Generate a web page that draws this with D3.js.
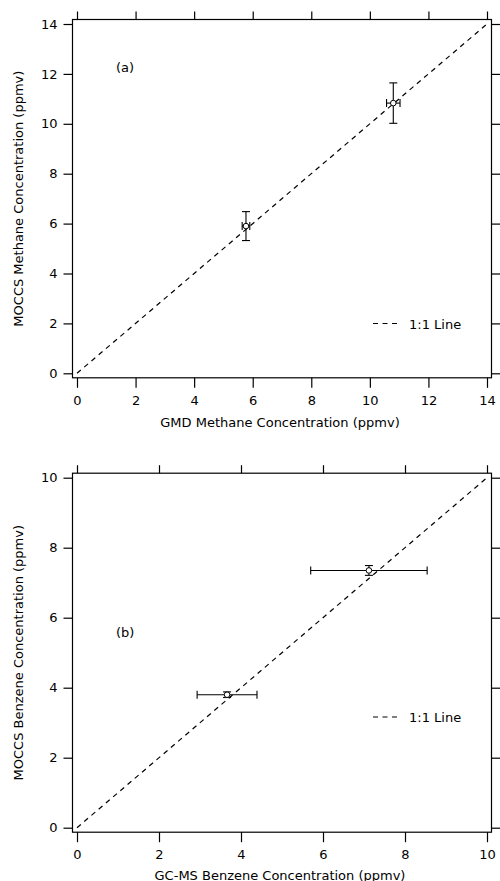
<!DOCTYPE html>
<html><head><meta charset="utf-8">
<script src="https://cdn.jsdelivr.net/npm/d3@7"></script>
<style>body{margin:0;background:#fff}svg{display:block}text{font-family:"DejaVu Sans",sans-serif;fill:#000}</style>
</head><body>
<script>
// Panel (a): methane
const methaneX = [5.77, 10.80];
const methaneY = [5.90, 10.83];
const methaneXErr = [0.13, 0.23];
const methaneYErr = [0.58, 0.81];
const methaneTicks = [0, 2, 4, 6, 8, 10, 12, 14];
// Panel (b): benzene
const benzeneX = [3.66, 7.12];
const benzeneY = [3.80, 7.35];
const benzeneXErr = [0.73, 1.42];
const benzeneYErr = [0.08, 0.14];
const benzeneTicks = [0, 2, 4, 6, 8, 10];

const W = 500, H = 881, FS = 13;
const svg = d3.select("body").append("svg").attr("width", W).attr("height", H);

function panel(cfg) {
  const x = d3.scaleLinear().domain([0, cfg.max]).range([77, 487]);
  const y = d3.scaleLinear().domain([0, cfg.max]).range([cfg.y0, cfg.y1]);
  const g = svg.append("g");
  const fl = 72.5, fr = 491.5, ft = cfg.y1 - 4.5, fb = cfg.y0 + 4.5;
  g.append("rect").attr("x", fl).attr("y", ft).attr("width", fr - fl).attr("height", fb - ft)
    .attr("fill", "none").attr("stroke", "#000").attr("stroke-width", 1.2);
  const bx = g.append("g").attr("transform", `translate(0,${fb})`)
    .call(d3.axisBottom(x).tickValues(cfg.ticks).tickSize(10).tickPadding(8).tickFormat(d3.format("d")));
  const tx = g.append("g").attr("transform", `translate(0,${ft})`)
    .call(d3.axisTop(x).tickValues(cfg.ticks).tickSize(8).tickFormat(""));
  const ly = g.append("g").attr("transform", `translate(${fl},0)`)
    .call(d3.axisLeft(y).tickValues(cfg.ticks).tickSize(9).tickPadding(6).tickFormat(d3.format("d")));
  const ry = g.append("g").attr("transform", `translate(${fr},0)`)
    .call(d3.axisRight(y).tickValues(cfg.ticks).tickSize(9).tickFormat(""));
  [bx, tx, ly, ry].forEach(a => {
    a.select(".domain").remove();
    a.selectAll("line").attr("stroke", "#000").attr("stroke-width", 1.2);
    a.selectAll("text").attr("font-size", FS).attr("font-family", "DejaVu Sans").attr("fill", "#000");
  });
  g.append("line").attr("x1", x(0)).attr("y1", y(0)).attr("x2", x(cfg.max)).attr("y2", y(cfg.max))
    .attr("stroke", "#000").attr("stroke-width", 1.2).attr("stroke-dasharray", "5,4.5");
  const cap = 4;
  cfg.xs.forEach((xv, i) => {
    const yv = cfg.ys[i], ex = cfg.xe[i], ey = cfg.ye[i];
    const eb = g.append("g").attr("stroke", "#000").attr("stroke-width", 1.1);
    eb.append("line").attr("x1", x(xv)).attr("x2", x(xv)).attr("y1", y(yv - ey)).attr("y2", y(yv + ey));
    eb.append("line").attr("x1", x(xv) - cap).attr("x2", x(xv) + cap).attr("y1", y(yv - ey)).attr("y2", y(yv - ey));
    eb.append("line").attr("x1", x(xv) - cap).attr("x2", x(xv) + cap).attr("y1", y(yv + ey)).attr("y2", y(yv + ey));
    eb.append("line").attr("x1", x(xv - ex)).attr("x2", x(xv + ex)).attr("y1", y(yv)).attr("y2", y(yv));
    eb.append("line").attr("x1", x(xv - ex)).attr("x2", x(xv - ex)).attr("y1", y(yv) - cap).attr("y2", y(yv) + cap);
    eb.append("line").attr("x1", x(xv + ex)).attr("x2", x(xv + ex)).attr("y1", y(yv) - cap).attr("y2", y(yv) + cap);
    g.append("circle").attr("cx", x(xv)).attr("cy", y(yv)).attr("r", 2.8)
      .attr("fill", "#fff").attr("stroke", "#000").attr("stroke-width", 1);
  });
  g.append("text").attr("x", 116).attr("y", cfg.labelY).attr("font-size", FS).text(cfg.label);
  g.append("line").attr("x1", 373).attr("x2", 400).attr("y1", cfg.legY).attr("y2", cfg.legY)
    .attr("stroke", "#000").attr("stroke-width", 1.2).attr("stroke-dasharray", "5,4.5");
  g.append("text").attr("x", 409).attr("y", cfg.legY + 5).attr("font-size", FS).text("1:1 Line");
  g.append("text").attr("x", (fl + fr) / 2 - 2).attr("y", cfg.xTitleY).attr("text-anchor", "middle")
    .attr("font-size", FS).text(cfg.xTitle);
  g.append("text").attr("transform", `translate(23,${(cfg.y0 + cfg.y1) / 2}) rotate(-90)`)
    .attr("text-anchor", "middle").attr("font-size", FS).text(cfg.yTitle);
}

panel({max: 14, ticks: methaneTicks, y0: 373.3, y1: 24, xs: methaneX, ys: methaneY, xe: methaneXErr, ye: methaneYErr,
  label: "(a)", labelY: 71.5, legY: 323.5, xTitleY: 426.5, xTitle: "GMD Methane Concentration (ppmv)",
  yTitle: "MOCCS Methane Concentration (ppmv)"});
panel({max: 10, ticks: benzeneTicks, y0: 827.7, y1: 477.7, xs: benzeneX, ys: benzeneY, xe: benzeneXErr, ye: benzeneYErr,
  label: "(b)", labelY: 636.5, legY: 717, xTitleY: 879.5, xTitle: "GC-MS Benzene Concentration (ppmv)",
  yTitle: "MOCCS Benzene Concentration (ppmv)"});
</script>
</body></html>
